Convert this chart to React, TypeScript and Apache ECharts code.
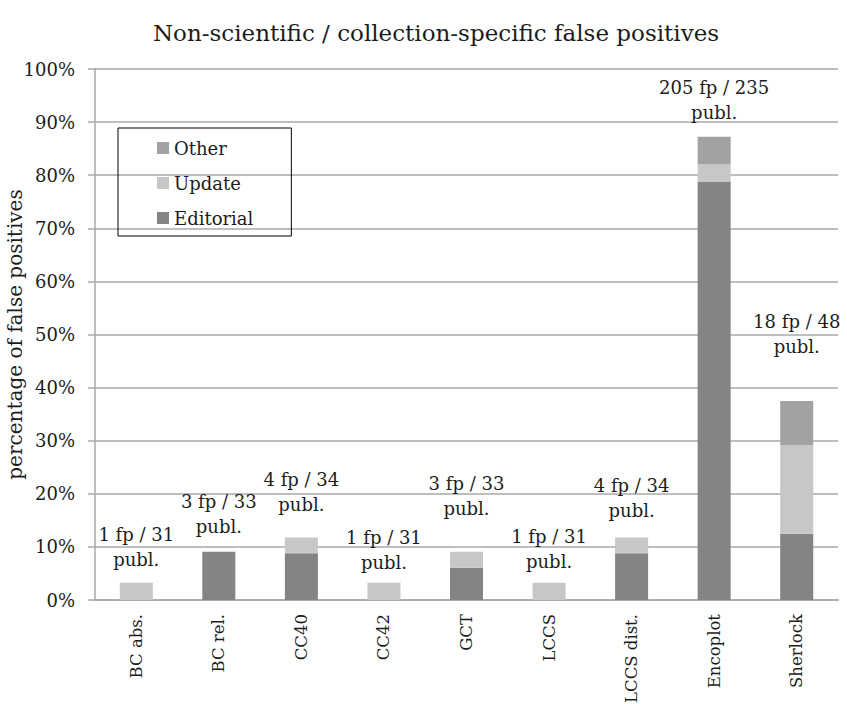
import React, { useEffect, useRef } from "react";
import * as echarts from "echarts";

const categories = ["BC abs.", "BC rel.", "CC40", "CC42", "GCT", "LCCS", "LCCS dist.", "Encoplot", "Sherlock"];
const publications = [31, 33, 34, 31, 33, 31, 34, 235, 48];
const editorialFp = [0, 3, 3, 0, 2, 0, 3, 185, 6];
const updateFp = [1, 0, 1, 1, 1, 1, 1, 8, 8];
const otherFp = [0, 0, 0, 0, 0, 0, 0, 12, 4];
const yTicks = [0, 10, 20, 30, 40, 50, 60, 70, 80, 90, 100];

// label lift above the bar top (px), styling only
const LABEL_DISTANCE = [10, 12, 20, 7, 30, 8, 14, 11, 41];

const FONT = "DejaVu Serif";
const TEXT = "#1c1c1c";
const GRID = "#a9a9a9";

const pct = (arr: number[]) => arr.map((v, i) => (v / publications[i]) * 100);

export default function App() {
  const ref = useRef<HTMLDivElement>(null);
  useEffect(() => {
    if (!ref.current) return;
    const chart = echarts.init(ref.current, null, { renderer: "svg" });
    const totalFp = editorialFp.map((v, i) => v + updateFp[i] + otherFp[i]);
    const totals = totalFp.map((v, i) => (v / publications[i]) * 100);
    chart.setOption({
      animation: false,
      backgroundColor: "#ffffff",
      textStyle: { fontFamily: FONT },
      title: {
        text: "Non-scientific / collection-specific false positives",
        left: 431,
        top: 16,
        textAlign: "center",
        textStyle: { fontFamily: FONT, fontSize: 23, fontWeight: "normal", color: TEXT },
      },
      legend: {
        data: ["Other", "Update", "Editorial"],
        orient: "vertical",
        left: 118,
        top: 128,
        itemWidth: 12,
        itemHeight: 12,
        itemGap: 15,
        padding: [10, 38, 8, 39],
        borderColor: "#000",
        borderWidth: 1,
        icon: "rect",
        textStyle: { fontFamily: FONT, fontSize: 18, color: TEXT, lineHeight: 20 },
      },
      grid: { left: 95, right: 9, top: 69, bottom: 104, containLabel: false, outerBoundsMode: "none" },
      xAxis: {
        type: "category",
        data: categories,
        axisLine: { lineStyle: { color: GRID, width: 1.5 } },
        axisTick: { length: 7, lineStyle: { color: GRID, width: 1.5 } },
        axisLabel: { rotate: 90, margin: 14, fontFamily: FONT, fontSize: 16.5, color: TEXT },
      },
      yAxis: {
        type: "value",
        min: yTicks[0],
        max: yTicks[yTicks.length - 1],
        interval: yTicks[1] - yTicks[0],
        name: "percentage of false positives",
        nameLocation: "middle",
        nameGap: 70,
        nameMoveOverlap: false,
        nameTextStyle: { fontFamily: FONT, fontSize: 20, color: TEXT },
        axisLine: { show: true, lineStyle: { color: GRID, width: 1.5 } },
        axisTick: { show: true, length: 7, lineStyle: { color: GRID, width: 1.5 } },
        axisLabel: { formatter: "{value}%", margin: 20, fontFamily: FONT, fontSize: 18, color: TEXT },
        splitLine: { lineStyle: { color: GRID, width: 1.5 } },
      },
      series: [
        {
          name: "Editorial",
          type: "bar",
          stack: "fp",
          barWidth: "40%",
          data: pct(editorialFp),
          itemStyle: { color: "#848485" },
        },
        {
          name: "Update",
          type: "bar",
          stack: "fp",
          barWidth: "40%",
          data: pct(updateFp),
          itemStyle: { color: "#c7c7c8" },
        },
        {
          name: "Other",
          type: "bar",
          stack: "fp",
          barWidth: "40%",
          data: pct(otherFp),
          itemStyle: { color: "#a2a2a3" },
        },
        {
          name: "labels",
          type: "scatter",
          symbolSize: 1,
          itemStyle: { color: "rgba(0,0,0,0)", opacity: 1 },
          silent: true,
          data: totals.map((t, i) => ({
            value: t,
            label: { distance: LABEL_DISTANCE[i] },
          })),
          label: {
            show: true,
            position: "top",
            fontFamily: FONT,
            fontSize: 18,
            lineHeight: 25,
            color: TEXT,
            opacity: 1,
            align: "center",
            formatter: (p: any) => `${totalFp[p.dataIndex]} fp / ${publications[p.dataIndex]}\npubl.`,
          },
          z: 5,
        },
      ],
    });
    return () => chart.dispose();
  }, []);
  return (
    <div
      ref={ref}
      style={{ position: "fixed", left: 0, top: 0, width: 847, height: 704, background: "#fff" }}
    />
  );
}
